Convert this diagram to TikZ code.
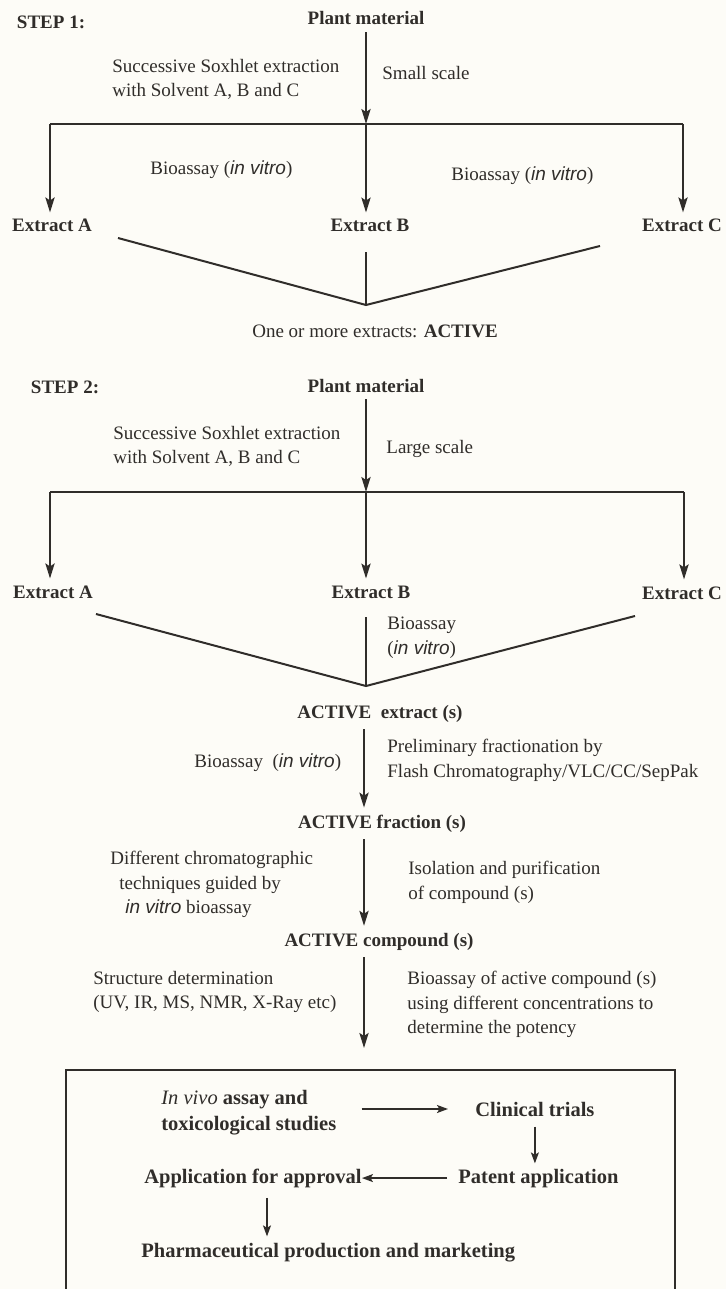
\documentclass[tikz,border=0pt]{standalone}
\usepackage{fontspec}
\setmainfont{Liberation Serif}
\newfontfamily\vitrofont{Liberation Sans}
\usepackage{xcolor}
\usepackage{tikz}
\usetikzlibrary{arrows.meta}
\definecolor{paper}{RGB}{253,252,247}
\definecolor{ink}{RGB}{48,45,42}
\newcommand{\invitro}{{\vitrofont\itshape in vitro}}

\begin{document}
\begin{tikzpicture}[
    x=0.5pt, y=-0.5pt,
    txt/.style={inner sep=0pt, text=ink, font=\fontsize{9.5}{12.2}\selectfont},
    lbl/.style={txt, align=left},
    hdr/.style={inner sep=0pt, outer sep=3.5pt, text=ink,
                font=\fontsize{9.5}{12.2}\selectfont\bfseries},
    fin/.style={inner sep=0pt, text=ink, align=left,
                font=\fontsize{10.25}{13}\selectfont\bfseries},
    ln/.style={draw=ink, line width=1pt},
    thinln/.style={draw=ink, line width=0.6pt},
    arr/.style={ln, -{Stealth[length=7.5pt, width=4.6pt, inset=1.5pt]}},
    farr/.style={draw=ink, line width=0.7pt, -{Stealth[length=5.5pt, width=4pt, inset=1.2pt]}}
]
\path[use as bounding box, fill=paper] (0,0) rectangle (726,1289);

\node[hdr, anchor=base west] (step1)  at (10,29)   {STEP 1:};
\node[hdr, anchor=base]      (plant1) at (366,25)  {Plant material};
\node[lbl, anchor=north west] (soxh1) at (112,59)  {Successive Soxhlet extraction\\with Solvent A, B and C};
\node[txt, anchor=base west] (small)  at (382,80)  {Small scale};
\coordinate (s1a) at (50,124);
\coordinate (s1b) at (366,124);
\coordinate (s1c) at (683,124);
\node[txt, anchor=base west] (bio1)   at (150,175) {Bioassay (\invitro)};
\node[txt, anchor=base west] (bio2)   at (451,181) {Bioassay (\invitro)};
\node[hdr, anchor=base]      (extA1)  at (52,232)  {Extract A};
\node[hdr, anchor=base]      (extB1)  at (370,232) {Extract B};
\node[hdr, anchor=base]      (extC1)  at (682,232) {Extract C};
\coordinate (v1l) at (118,238);
\coordinate (v1m) at (366,305);
\coordinate (v1r) at (600,246);
\coordinate (v1t) at (366,252);
\node[txt, anchor=base]      (one)    at (375,337) {One or more extracts: \textbf{ACTIVE}};

\draw[arr] (plant1) -- (s1b);
\draw[ln]  (s1a) -- (s1c);
\draw[arr] (s1a) -- (s1a |- extA1.north);
\draw[arr] (s1b) -- (s1b |- extB1.north);
\draw[arr] (s1c) -- (s1c |- extC1.north);
\draw[ln]  (v1l) -- (v1m) -- (v1r);
\draw[thinln] (v1t) -- (v1m);

\node[hdr, anchor=base west] (step2)  at (24,393)  {STEP 2:};
\node[hdr, anchor=base]      (plant2) at (366,392) {Plant material};
\node[lbl, anchor=north west] (soxh2) at (113,426) {Successive Soxhlet extraction\\with Solvent A, B and C};
\node[txt, anchor=base west] (large)  at (386,453) {Large scale};
\coordinate (s2a) at (50,492);
\coordinate (s2b) at (366,492);
\coordinate (s2c) at (684,492);
\node[hdr, anchor=base]      (extA2)  at (53,598)  {Extract A};
\node[hdr, anchor=base]      (extB2)  at (371,598) {Extract B};
\node[hdr, anchor=base]      (extC2)  at (682,599) {Extract C};
\coordinate (v2l) at (96,614);
\coordinate (v2m) at (366,686);
\coordinate (v2r) at (635,616);
\coordinate (v2t) at (366,617);
\node[lbl, anchor=north west] (bio3)  at (387,617) {Bioassay\\(\invitro)};

\draw[arr] (plant2) -- (s2b);
\draw[ln]  (s2a) -- (s2c);
\draw[arr] (s2a) -- (s2a |- extA2.north);
\draw[arr] (s2b) -- (s2b |- extB2.north);
\draw[arr] (s2c) -- (s2c |- extC2.north);
\draw[ln]  (v2l) -- (v2m) -- (v2r);
\draw[ln]  (v2t) -- (v2m);

\coordinate (col) at (364,0);
\node[hdr, anchor=base]      (actE)   at (380,718) {ACTIVE\ \ extract (s)};
\node[txt, anchor=base west] (bio4)   at (194,767) {Bioassay\ \ (\invitro)};
\node[lbl, anchor=north west] (prelim) at (387,739) {Preliminary fractionation by\\Flash Chromatography/VLC/CC/SepPak};
\node[hdr, anchor=base]      (actF)   at (382,828) {ACTIVE fraction (s)};
\node[lbl, anchor=north west] (chrom) at (110,851) {Different chromatographic\\\hspace*{4.5pt}techniques guided by\\\hspace*{7.5pt}\invitro{} bioassay};
\node[lbl, anchor=north west] (isol)  at (408,861) {Isolation and purification\\of compound (s)};
\node[hdr, anchor=base]      (actC)   at (379,946) {ACTIVE compound (s)};
\node[lbl, anchor=north west] (struct) at (93,971) {Structure determination\\(UV, IR, MS, NMR, X-Ray etc)};
\node[lbl, anchor=north west] (potency) at (407,971) {Bioassay of active compound (s)\\using different concentrations to\\determine the potency};
\coordinate (tip) at (364,1048);

\draw[arr] (actE.south -| col) -- (actF.north -| col);
\draw[arr] (actF.south -| col) -- (actC.north -| col);
\draw[arr] (actC.south -| col) -- (tip);

\coordinate (bxl)  at (66,1289);
\coordinate (bxtl) at (66,1070);
\coordinate (bxtr) at (675,1070);
\coordinate (bxr)  at (675,1289);
\draw[ln, line width=0.8pt] (bxl) -- (bxtl) -- (bxtr) -- (bxr);

\node[fin, anchor=north west] (vivo)   at (161,1090) {{\mdseries\itshape In vivo} assay and\\toxicological studies};
\node[fin, anchor=base west]  (clin)   at (475,1116) {Clinical trials};
\node[fin, anchor=base west]  (patent) at (458,1183) {Patent application};
\node[fin, anchor=base west]  (approv) at (144,1183) {Application for approval};
\node[fin, anchor=base west]  (pharma) at (141,1257) {Pharmaceutical production and marketing};
\coordinate (dn) at (267,0);

\draw[farr, shorten <=12.5pt, shorten >=13.5pt] (vivo.east |- clin.west) -- (clin.west);
\draw[farr, shorten <=5pt, shorten >=2.5pt] (clin.south) -- (clin.south |- patent.north);
\draw[farr, shorten <=5.5pt] (patent.west) -- (approv.east |- patent.west);
\draw[farr, shorten <=5pt, shorten >=3pt] (approv.south -| dn) -- (pharma.north -| dn);
\end{tikzpicture}
\end{document}
